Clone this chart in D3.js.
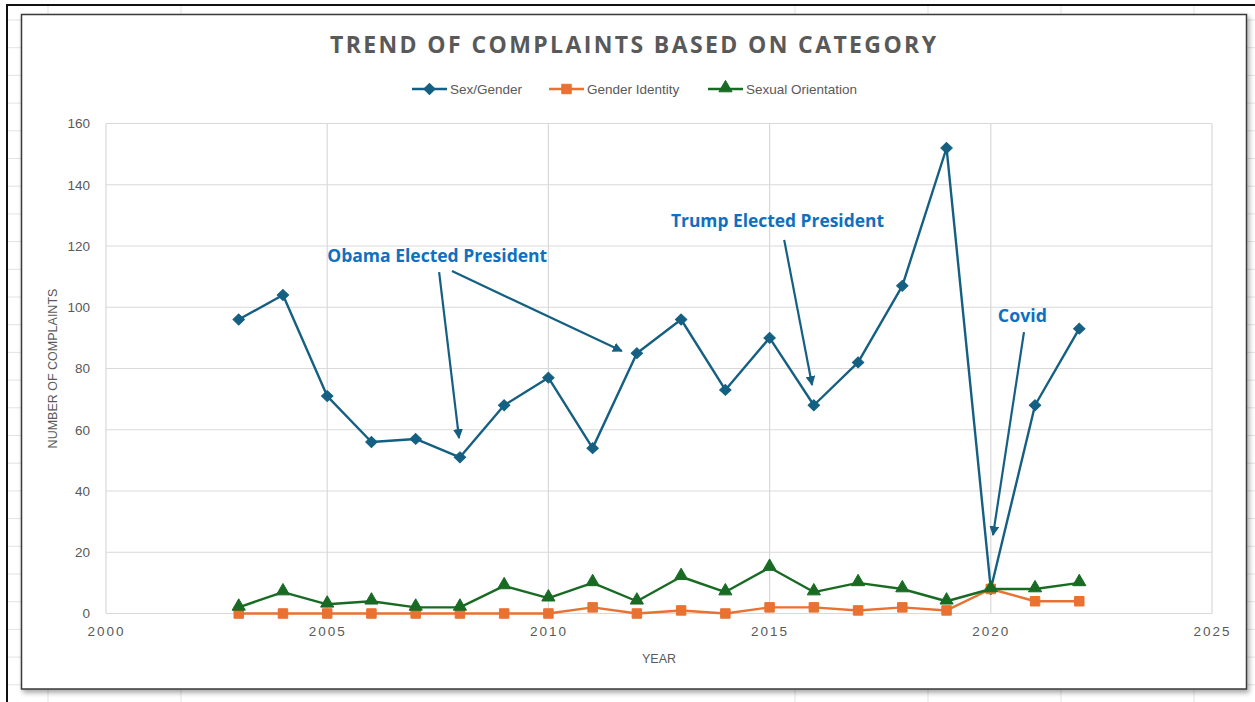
<!DOCTYPE html>
<html>
<head>
<meta charset="utf-8">
<script src="https://cdn.jsdelivr.net/npm/d3@7/dist/d3.min.js"></script>
<style>
  html, body { margin: 0; padding: 0; background: #ffffff; }
  svg { display: block; }
</style>
</head>
<body>
<svg id="chart" width="1255" height="702"></svg>
<script>
// ---- data ----
const years = [2003, 2004, 2005, 2006, 2007, 2008, 2009, 2010, 2011, 2012,
               2013, 2014, 2015, 2016, 2017, 2018, 2019, 2020, 2021, 2022];
const sexGender = [96, 104, 71, 56, 57, 51, 68, 77, 54, 85,
                   96, 73, 90, 68, 82, 107, 152, 8, 68, 93];
const genderIdentity = [0, 0, 0, 0, 0, 0, 0, 0, 2, 0,
                        1, 0, 2, 2, 1, 2, 1, 8, 4, 4];
const sexualOrientation = [2, 7, 3, 4, 2, 2, 9, 5, 10, 4,
                           12, 7, 15, 7, 10, 8, 4, 8, 8, 10];
const seriesNames = ["Sex/Gender", "Gender Identity", "Sexual Orientation"];
const xTicks = [2000, 2005, 2010, 2015, 2020, 2025];
const yTicks = [0, 20, 40, 60, 80, 100, 120, 140, 160];

// callouts: label, label anchor (year, value), arrows [fromYear, fromValue, toYear, toValue]
const noteLabels = ["Obama Elected President", "Trump Elected President", "Covid"];
const noteAnchors = [[2005.0, 114.8], [2012.77, 126.2], [2020.16, 95.3]];
const noteArrows = [
  [[2007.53, 111.5, 2007.98, 57.3], [2007.82, 111.8, 2011.66, 85.7]],
  [[2015.33, 122.0, 2015.96, 74.6]],
  [[2020.75, 91.9, 2020.05, 25.6]]
];

// ---- styles ----
const colors = ["#156082", "#E97132", "#196B24"];
const gridColor = "#d9d9d9";
const textGray = "#595959";
const noteBlue = "#0F6FC0";
const tickFont = "'Liberation Sans Narrow', 'Liberation Sans', Arial, sans-serif";

const svg = d3.select("#chart");

// ---- worksheet backdrop ----
const sheet = svg.append("g");
const colXs = [48, 181, 795, 928, 1061, 1194];
const rowYs = d3.range(0, 25).map(i => 20 + i * 27.7);
sheet.selectAll("line.col").data(colXs).join("line")
  .attr("x1", d => d).attr("x2", d => d).attr("y1", 5).attr("y2", 702)
  .attr("stroke", "#e3e3e3").attr("stroke-width", 1);
sheet.selectAll("line.row").data(rowYs).join("line")
  .attr("x1", 7).attr("x2", 1255).attr("y1", d => d).attr("y2", d => d)
  .attr("stroke", "#e3e3e3").attr("stroke-width", 1);
sheet.append("line").attr("x1", 7).attr("x2", 7).attr("y1", 4).attr("y2", 702)
  .attr("stroke", "#111").attr("stroke-width", 2);
sheet.append("line").attr("x1", 6).attr("x2", 1255).attr("y1", 5).attr("y2", 5)
  .attr("stroke", "#111").attr("stroke-width", 2);

// ---- chart frame with soft shadow ----
const defs = svg.append("defs");
const shadow = defs.append("filter").attr("id", "shadow")
  .attr("x", "-5%").attr("y", "-5%").attr("width", "110%").attr("height", "110%");
shadow.append("feDropShadow").attr("dx", 2).attr("dy", 3).attr("stdDeviation", 2.5)
  .attr("flood-color", "#000").attr("flood-opacity", 0.35);

svg.append("rect")
  .attr("x", 21.5).attr("y", 14.5).attr("width", 1225).attr("height", 674.5)
  .attr("fill", "#fff").attr("stroke", "#3a3a3a").attr("stroke-width", 1.5)
  .attr("filter", "url(#shadow)");

// ---- scales ----
const x = d3.scaleLinear().domain([2000, 2025]).range([106, 1212]);
const y = d3.scaleLinear().domain([0, 160]).range([613.5, 123.5]);

// ---- gridlines ----
const grid = svg.append("g");
grid.selectAll("line.h").data(yTicks).join("line")
  .attr("x1", x(2000)).attr("x2", x(2025))
  .attr("y1", d => y(d)).attr("y2", d => y(d))
  .attr("stroke", gridColor).attr("stroke-width", 1.2);
grid.selectAll("line.v").data(xTicks).join("line")
  .attr("x1", d => x(d)).attr("x2", d => x(d))
  .attr("y1", y(0)).attr("y2", y(160))
  .attr("stroke", gridColor).attr("stroke-width", 1.2);

// ---- axes ----
const yAxis = svg.append("g")
  .attr("transform", `translate(${x(2000)},0)`)
  .call(d3.axisLeft(y).tickValues(yTicks).tickSize(0).tickPadding(16));
yAxis.select(".domain").remove();
yAxis.selectAll("text")
  .attr("fill", textGray).style("font-family", tickFont).style("font-size", "13.5px");

const xAxis = svg.append("g")
  .attr("transform", `translate(0,${y(0)})`)
  .call(d3.axisBottom(x).tickValues(xTicks).tickFormat(d3.format("d")).tickSize(0).tickPadding(13));
xAxis.select(".domain").remove();
xAxis.selectAll("text")
  .attr("fill", textGray).style("font-family", tickFont).style("font-size", "13.5px")
  .style("letter-spacing", "2px");

// axis titles
svg.append("text")
  .attr("x", (x(2000) + x(2025)) / 2).attr("y", 663)
  .attr("text-anchor", "middle").attr("fill", textGray)
  .style("font-family", tickFont).style("font-size", "12.5px")
  .text("YEAR");
svg.append("text")
  .attr("transform", `translate(57,${(y(0) + y(160)) / 2}) rotate(-90)`)
  .attr("text-anchor", "middle").attr("fill", textGray)
  .style("font-family", tickFont).style("font-size", "12.5px")
  .text("NUMBER OF COMPLAINTS");

// ---- title ----
svg.append("text")
  .attr("x", 633).attr("y", 53)
  .attr("text-anchor", "middle").attr("fill", textGray)
  .style("font-family", "'Open Sans', 'DejaVu Sans', sans-serif")
  .style("font-size", "23px").style("font-weight", 700)
  .attr("textLength", 606).attr("lengthAdjust", "spacing")
  .text("TREND OF COMPLAINTS BASED ON CATEGORY");

// ---- marker shapes ----
const symbols = [
  d3.symbol().type(d3.symbolDiamond2).size(75),
  d3.symbol().type(d3.symbolSquare).size(90),
  d3.symbol().type(d3.symbolTriangle).size(75)
];
function drawMarker(g, i, cx, cy) {
  g.append("path")
    .attr("d", symbols[i]())
    .attr("transform", i === 0 ? `translate(${cx},${cy}) scale(1.05,1)` : `translate(${cx},${cy - (i === 2 ? 1 : 0)})`)
    .attr("fill", colors[i]).attr("stroke", colors[i]).attr("stroke-width", 1);
}

// ---- series ----
const allSeries = [sexGender, genderIdentity, sexualOrientation];
const line = d3.line().x(d => x(d[0])).y(d => y(d[1]));
allSeries.forEach((vals, i) => {
  const pts = years.map((yr, k) => [yr, vals[k]]);
  const g = svg.append("g");
  g.append("path").datum(pts)
    .attr("d", line).attr("fill", "none")
    .attr("stroke", colors[i]).attr("stroke-width", 2.4)
    .attr("stroke-linejoin", "round");
  pts.forEach(p => drawMarker(g, i, x(p[0]), y(p[1])));
});

// ---- legend ----
const legendX = [412, 549, 708];
const legend = svg.append("g");
seriesNames.forEach((name, i) => {
  const lx = legendX[i];
  legend.append("line")
    .attr("x1", lx).attr("x2", lx + 35).attr("y1", 89).attr("y2", 89)
    .attr("stroke", colors[i]).attr("stroke-width", 2.4);
  drawMarker(legend, i, lx + 17.5, 89);
  legend.append("text")
    .attr("x", lx + 38).attr("y", 94)
    .attr("fill", textGray)
    .style("font-family", tickFont).style("font-size", "13.5px")
    .text(name);
});

// ---- callouts ----
defs.append("marker").attr("id", "arrowhead")
  .attr("viewBox", "0 0 10 10").attr("refX", 9).attr("refY", 5)
  .attr("markerWidth", 4.5).attr("markerHeight", 4.5)
  .attr("orient", "auto-start-reverse")
  .append("path").attr("d", "M0,0 L10,5 L0,10 z").attr("fill", colors[0]);

const notes = svg.append("g");
const noteWidths = [220, 213, 49];
noteLabels.forEach((label, i) => {
  notes.append("text")
    .attr("x", x(noteAnchors[i][0])).attr("y", y(noteAnchors[i][1]))
    .attr("fill", noteBlue)
    .style("font-family", "'Open Sans', 'Noto Sans', sans-serif")
    .style("font-size", "17.5px").style("font-weight", 700)
    .attr("textLength", noteWidths[i]).attr("lengthAdjust", "spacingAndGlyphs")
    .text(label);
  noteArrows[i].forEach(a => {
    notes.append("line")
      .attr("x1", x(a[0])).attr("y1", y(a[1]))
      .attr("x2", x(a[2])).attr("y2", y(a[3]))
      .attr("stroke", colors[0]).attr("stroke-width", 2.2)
      .attr("marker-end", "url(#arrowhead)");
  });
});
</script>
</body>
</html>
